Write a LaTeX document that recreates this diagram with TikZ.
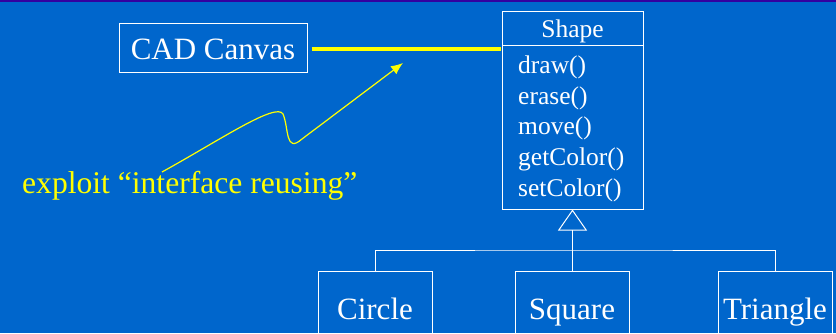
\documentclass[tikz,border=0pt]{standalone}
\usepackage{fontspec}
\setmainfont{Liberation Serif}
\usetikzlibrary{arrows.meta,calc}
\definecolor{bgblue}{HTML}{0066CC}
\definecolor{topband}{HTML}{3300A0}
\definecolor{hilite}{HTML}{FFFF00}
\begin{document}
\begin{tikzpicture}[x=1pt,y=-1pt,
  box/.style={draw=white,line width=1pt,text=white,inner sep=0pt},
  big/.style={font=\fontsize{31}{31}\selectfont},
  small/.style={font=\fontsize{25.5}{25.5}\selectfont},
  method/.style={small,text=white,anchor=base west,inner sep=0pt},
  subbox/.style={box,big,minimum width=114pt,minimum height=90pt,text height=5pt,text depth=0pt},
  link/.style={draw=white,line width=1pt}]
\useasboundingbox (0,0) rectangle (836,333);
\clip (0,0) rectangle (836,333);
\fill[bgblue] (0,0) rectangle (836,333);
\fill[topband] (0,0) rectangle (836,2.3);
% CAD Canvas
\node[box,big,minimum width=188pt,minimum height=49pt,text height=23pt,text depth=0pt] (cad) at (213,47.5) {CAD Canvas};
% Shape class
\node[box,small,minimum width=141pt,minimum height=34pt,text height=18pt,text depth=0pt] (shapetitle) at (572.5,28) {Shape};
\node[box,minimum width=141pt,minimum height=164pt] (shapebody) at (572.5,127) {};
\node[method] (m1) at (518,73) {draw()};
\node[method] (m2) at (518,104) {erase()};
\node[method] (m3) at (518,134) {move()};
\node[method] (m4) at (518,165) {getColor()};
\node[method] (m5) at (518,196) {setColor()};
% subclasses
\node[subbox] (circ) at (375,316.5) {Circle};
\node[subbox] (sq) at (572,316.5) {Square};
\node[subbox] (tri) at (775,316.5) {Triangle};
% inheritance
\coordinate (junc) at (572.5,250);
\draw[link] (circ.north) |- (junc) -| (tri.north);
\draw[link] (junc) -- (sq.north -| junc);
\draw[link,-{Triangle[open,length=21pt,width=29pt,line width=1pt]}] (junc) -- (shapebody.south -| junc);
% association
\draw[hilite,line width=4pt] ($(cad.east)+(4,1.5)$) -- ($(cad.east -| shapebody.west)+(-1,1.5)$);
% note
\node[font=\fontsize{31.6}{31.6}\selectfont,text=hilite,anchor=base west,inner sep=0pt] (note) at (22,193) {exploit “interface reusing”};
\coordinate (cstart) at (162,172);
\coordinate (ctip) at (403,63);
\draw[hilite,line width=1.2pt,-{Latex[length=12pt,width=10pt]}] (cstart) .. controls (220,140) and (276,102) .. (283,114) .. controls (289,128) and (285,154) .. (302,139) -- (ctip);
\end{tikzpicture}
\end{document}
